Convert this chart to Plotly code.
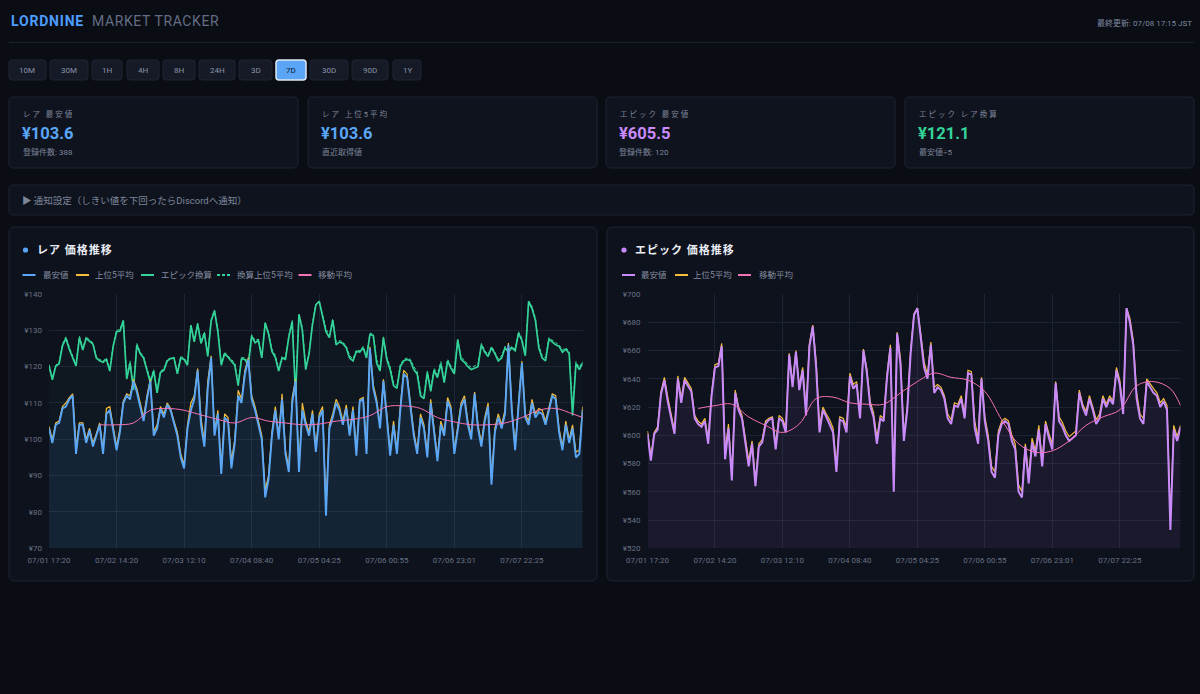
import plotly.graph_objects as go

W, H = 1200, 694

# ---------------- data ----------------
time_ticks = ["07/01 17:20", "07/02 14:20", "07/03 12:10", "07/04 08:40",
              "07/05 04:25", "07/06 00:55", "07/06 23:01", "07/07 22:25"]

rare_min = [103, 99, 104, 104.5, 108.5, 109, 111, 112, 96, 104,
            104, 99, 102.5, 98, 101, 104, 96, 107, 108, 102.5,
            97, 102, 110, 112, 111, 116, 113, 109, 105, 111,
            116, 101, 103, 108.5, 106, 109.5, 108, 104.5, 101, 95,
            92, 103, 108, 111, 119, 104, 98, 114, 122.5, 101,
            107, 90.5, 106, 105, 92, 99, 112, 110, 118, 122,
            111, 108, 104, 100, 84, 89, 101, 108, 100, 111,
            96, 91, 110, 116, 91, 108, 104, 101, 107, 96.5,
            106, 108, 79, 103, 106, 110, 108, 104, 108.5, 101,
            108, 95.5, 110.5, 111, 96, 125, 114, 110, 103, 116,
            106, 95.5, 104, 96, 108, 118, 117, 108, 101, 96,
            106, 103, 95, 110, 102, 94, 104, 101, 110.5, 108,
            96, 103, 109, 111, 104, 100, 112.5, 103, 98, 105,
            109, 87.5, 102, 106, 103, 107, 126, 108, 97, 109,
            121, 106, 104, 110, 106, 107.5, 107, 104, 108, 112,
            111, 102, 97, 104, 99, 103, 95, 96, 108]

rare_top5 = [103.5, 100, 104.5, 105, 109, 110, 111.5, 112.5, 98, 104.5,
             104.5, 100, 103, 99, 101.5, 104.5, 97, 108.5, 109, 103,
             98, 103, 110.5, 112.5, 112, 116.5, 114, 110, 106, 112,
             116.5, 102, 104, 109, 107, 110, 108.5, 105, 102, 96,
             93, 104, 110, 112, 119.5, 106, 99, 116, 123, 102,
             108, 92, 107, 106, 94, 100, 113.5, 111, 119, 122.5,
             112, 109, 105, 101, 86, 90, 102, 109, 101, 112.5,
             97, 92, 111.5, 116.5, 92, 110, 105, 102, 108, 98,
             107, 109, 81, 104, 107, 111, 109, 105, 109.5, 102,
             109, 97, 111, 111.5, 97, 125.5, 115, 111, 104, 116.5,
             107, 96.5, 105, 97, 109, 119, 118, 109, 102, 97,
             107, 104, 96, 111, 103, 95, 105, 102, 111.5, 109,
             97, 104, 110, 112, 105, 101, 113, 104, 99, 106,
             110, 89, 103, 107, 104, 108, 126.5, 109, 98, 110,
             121.5, 107, 105, 111, 107, 108.5, 108, 105, 109, 112.5,
             112, 103, 98, 105, 100, 104, 96.5, 97, 109]

epic_min = [601, 582, 601, 604, 629, 639, 624, 612, 601, 640,
            623, 639, 635, 631, 612, 608, 606, 610, 594, 628,
            648, 649, 663, 583, 605, 568, 630, 618, 612, 596,
            578, 594, 564, 592, 595, 608, 611, 612, 590, 612,
            610, 602, 657, 634, 659, 632, 646, 614, 663, 677,
            648, 602, 618, 613, 608, 602, 574, 611, 610, 602,
            642, 633, 636, 612, 660, 645, 621, 613, 594, 612,
            610, 641, 662, 560, 672, 650, 596, 618, 658, 685,
            690, 668, 648, 640, 664, 630, 634, 632, 626, 612,
            608, 621, 620, 626, 612, 644, 643, 605, 594, 640,
            610, 596, 574, 570, 600, 608, 610, 608, 596, 590,
            560, 556, 592, 566, 595, 585, 604, 578, 608, 598,
            590, 637, 610, 606, 600, 596, 598, 600, 630, 620,
            614, 626, 618, 608, 612, 626, 620, 626, 622, 646,
            636, 615, 690, 680, 664, 626, 612, 608, 638, 634,
            630, 628, 620, 624, 618, 533, 604, 596, 605.5]

epic_top5 = [603, 585, 602, 606, 631, 641, 627, 615, 603, 642,
             626, 641, 637, 633, 614, 610, 608, 612, 597, 630,
             650, 651, 665, 588, 608, 572, 632, 620, 614, 599,
             582, 596, 568, 594, 597, 610, 612, 613, 594, 614,
             612, 605, 658, 637, 660, 635, 648, 618, 665, 678,
             652, 606, 620, 615, 611, 605, 578, 613, 612, 606,
             644, 636, 638, 615, 661, 647, 624, 616, 598, 614,
             612, 643, 664, 566, 673, 654, 600, 620, 660, 686,
             690, 672, 652, 643, 666, 634, 636, 634, 628, 615,
             611, 623, 622, 628, 615, 646, 645, 610, 598, 641,
             613, 600, 578, 574, 603, 610, 612, 610, 600, 594,
             565, 560, 594, 570, 598, 589, 607, 582, 610, 601,
             594, 638, 613, 609, 603, 599, 601, 603, 632, 622,
             617, 628, 620, 611, 615, 628, 622, 628, 624, 648,
             639, 618, 690, 683, 667, 630, 615, 612, 640, 636,
             633, 630, 623, 626, 621, 540, 607, 599, 607]

# moving-average readings (sampled at these point indices)
ma_points = [15, 20, 25, 30, 35, 40, 45, 50, 55, 60, 65, 70, 75, 80, 85,
             90, 95, 100, 105, 110, 115, 120, 125, 130, 135, 140, 145, 150, 155, 158]
rare_ma = [104, 104, 104.5, 108, 108.5, 108, 106.7, 105.5, 104.5, 106,
           105, 104.5, 104, 104.2, 105, 105.5, 106.5, 109, 109.2, 108.5,
           106, 104.8, 104, 104, 104.5, 106, 108, 108.5, 107, 106]
epic_ma = [619, 621, 622, 613, 607, 602, 608, 626, 627, 623,
           622, 622, 630, 638, 644, 641, 639, 631, 611, 594,
           588, 589, 596, 607, 613, 618, 635, 638, 633, 621]

range_buttons = ["10M", "30M", "1H", "4H", "8H", "24H", "3D", "7D", "30D", "90D", "1Y"]
active_range = "7D"

card_labels = ["レア 最安値", "レア 上位5平均", "エピック 最安値", "エピック レア換算"]
card_values = ["¥103.6", "¥103.6", "¥605.5", "¥121.1"]
card_subs = ["登録件数: 388", "直近取得値", "登録件数: 120", "最安値÷5"]

title_brand = "LORDNINE"
title_rest = "MARKET TRACKER"
updated_text = "最終更新: 07/08 17:15 JST"
notice_text = "▶ 通知設定（しきい値を下回ったらDiscordへ通知）"
rare_title = "レア 価格推移"
epic_title = "エピック 価格推移"
rare_legend = ["最安値", "上位5平均", "エピック換算", "換算上位5平均", "移動平均"]
epic_legend = ["最安値", "上位5平均", "移動平均"]

for arr in (rare_top5, epic_min, epic_top5):
    assert len(arr) == len(rare_min)
assert len(rare_ma) == len(ma_points) == len(epic_ma)

# derived: epic price converted to rare units (÷5)
epic_conv = [v / 5 for v in epic_min]
epic_conv_top5 = [v / 5 for v in epic_top5]
idx = list(range(len(rare_min)))
TICK_STEP = 20
tickvals = [k * TICK_STEP for k in range(len(time_ticks))]

# ---------------- style ----------------
FONT = "Roboto, 'Noto Sans CJK JP', sans-serif"
BG = "#0a0d14"
CARD = "#0f131e"
BORDER = "#1e2434"
GRID = "#1c2333"
TICK = "#687185"
LABEL = "#7d869a"
BLUE = "#5aa6f7"
YELLOW = "#f5bd3a"
GREEN = "#34d399"
PINK = "#f472b6"
PURPLE = "#c98bfb"


def px(x):
    return x / W


def py(y):
    return 1 - y / H


def rrect(x0, y0, x1, y1, r, fill, line, lw=1.0, layer="below"):
    p = (f"M {px(x0 + r)},{py(y0)} L {px(x1 - r)},{py(y0)} Q {px(x1)},{py(y0)} {px(x1)},{py(y0 + r)} "
         f"L {px(x1)},{py(y1 - r)} Q {px(x1)},{py(y1)} {px(x1 - r)},{py(y1)} "
         f"L {px(x0 + r)},{py(y1)} Q {px(x0)},{py(y1)} {px(x0)},{py(y1 - r)} "
         f"L {px(x0)},{py(y0 + r)} Q {px(x0)},{py(y0)} {px(x0 + r)},{py(y0)} Z")
    return dict(type="path", xref="paper", yref="paper", path=p, fillcolor=fill,
                line=dict(color=line, width=lw), layer=layer)


annotations = []


def txt(x, y, s, size, color, anchor="left", bold=False, ls=None, family=FONT):
    t = s
    if ls is not None:
        t = f"<span style='letter-spacing:{ls}px'>{t}</span>"
    if bold:
        t = f"<b>{t}</b>"
    annotations.append(dict(x=px(x), y=py(y), xref="paper", yref="paper", text=t,
                            showarrow=False, xanchor=anchor, yanchor="middle",
                            font=dict(size=size, color=color, family=family)))


shapes = []

# header
txt(9, 21, title_brand, 14, "#4d9dff", bold=True, ls=0.8)
txt(90, 21, title_rest, 14, "#636d84", ls=0.6)
txt(1194, 23, updated_text, 8, "#7f89a0", anchor="right")
shapes.append(dict(type="line", xref="paper", yref="paper", x0=px(9), x1=px(1194),
                   y0=py(42.5), y1=py(42.5), line=dict(color="#1a2030", width=1), layer="below"))

# range buttons
btn_ext = [(9, 46), (50, 88), (92, 122), (127, 159), (163, 195), (199, 235),
           (239, 272), (276, 306), (310, 348), (352, 388), (393, 421)]
for name, (x0, x1) in zip(range_buttons, btn_ext):
    if name == active_range:
        shapes.append(rrect(x0, 60, x1, 80, 3, "#5aa5f6", "#dfe7f2", 1.5))
        txt((x0 + x1) / 2, 70.5, name, 8, "#0c1a33", anchor="center")
    else:
        shapes.append(rrect(x0, 60, x1, 80, 3, "#151a26", "#1f2533", 1))
        txt((x0 + x1) / 2, 70.5, name, 8, "#8b93a6", anchor="center")

# stat cards
card_x = [(9, 298), (308, 597), (606, 895), (905, 1194)]
card_colors = [BLUE, BLUE, PURPLE, GREEN]
for (x0, x1), lab, val, sub, col in zip(card_x, card_labels, card_values, card_subs, card_colors):
    shapes.append(rrect(x0, 97, x1, 168, 5, CARD, BORDER, 1))
    txt(x0 + 12, 114, lab, 7.5, LABEL, ls=2)
    txt(x0 + 10.5, 133, val, 16.5, col, bold=True)
    txt(x0 + 11.5, 152, sub, 8, LABEL)

# notification bar
shapes.append(rrect(9, 185, 1194, 215, 5, CARD, BORDER, 1))
txt(20, 200.5, notice_text, 9.5, LABEL)

# chart panels
for x0, x1 in [(9, 597), (607, 1194)]:
    shapes.append(rrect(x0, 227, x1, 581, 6, "#0e121c", BORDER, 1))

# panel titles
for cx, col, tx, title in [(25.5, BLUE, 35, rare_title), (624, PURPLE, 632.5, epic_title)]:
    shapes.append(dict(type="circle", xref="paper", yref="paper", x0=px(cx - 2.6), x1=px(cx + 2.6),
                       y0=py(250 - 2.6), y1=py(250 + 2.6), fillcolor=col, line=dict(width=0)))
    txt(tx, 250, title, 11, "#e9edf5", bold=True, ls=1)

# manual legends
rare_leg_pos = [(22.5, 40.5), (76, 93), (141, 158.5), (217, 235), (298.5, 316)]
rare_leg_style = [(BLUE, "solid"), (YELLOW, "solid"), (GREEN, "solid"), (GREEN, "3px,2px"), (PINK, "solid")]
epic_leg_pos = [(622, 639), (675, 691), (738, 756.5)]
epic_leg_style = [(PURPLE, "solid"), (YELLOW, "solid"), (PINK, "solid")]
for names, poss, styles in [(rare_legend, rare_leg_pos, rare_leg_style),
                            (epic_legend, epic_leg_pos, epic_leg_style)]:
    for nm, (lx, tx), (col, dash) in zip(names, poss, styles):
        shapes.append(dict(type="line", xref="paper", yref="paper", x0=px(lx), x1=px(lx + 13),
                           y0=py(275), y1=py(275), line=dict(color=col, width=2, dash=dash)))
        txt(tx, 275, nm, 8.5, "#848da1")

# ---------------- traces ----------------
fig = go.Figure()

# rare chart
fig.add_trace(go.Scatter(x=idx, y=rare_min, mode="lines", line=dict(width=0),
                         fill="tozeroy", fillcolor="rgba(70,150,240,0.10)",
                         hoverinfo="skip", xaxis="x", yaxis="y"))
fig.add_trace(go.Scatter(x=idx, y=epic_conv, mode="lines", line=dict(width=0),
                         fill="tozeroy", fillcolor="rgba(52,211,153,0.035)",
                         hoverinfo="skip", xaxis="x", yaxis="y"))
fig.add_trace(go.Scatter(x=idx, y=epic_conv_top5, mode="lines", name=rare_legend[3],
                         line=dict(color=GREEN, width=1, dash="3px,2px"), xaxis="x", yaxis="y"))
fig.add_trace(go.Scatter(x=idx, y=epic_conv, mode="lines", name=rare_legend[2],
                         line=dict(color=GREEN, width=1.7), xaxis="x", yaxis="y"))
fig.add_trace(go.Scatter(x=idx, y=rare_top5, mode="lines", name=rare_legend[1],
                         line=dict(color=YELLOW, width=1.2), xaxis="x", yaxis="y"))
fig.add_trace(go.Scatter(x=idx, y=rare_min, mode="lines", name=rare_legend[0],
                         line=dict(color=BLUE, width=1.9), xaxis="x", yaxis="y"))
fig.add_trace(go.Scatter(x=ma_points, y=rare_ma, mode="lines", name=rare_legend[4],
                         line=dict(color=PINK, width=1, shape="spline"), xaxis="x", yaxis="y"))

# epic chart
fig.add_trace(go.Scatter(x=idx, y=epic_min, mode="lines", line=dict(width=0),
                         fill="tozeroy", fillcolor="rgba(192,132,252,0.07)",
                         hoverinfo="skip", xaxis="x2", yaxis="y2"))
fig.add_trace(go.Scatter(x=idx, y=epic_top5, mode="lines", name=epic_legend[1],
                         line=dict(color=YELLOW, width=1.2), xaxis="x2", yaxis="y2"))
fig.add_trace(go.Scatter(x=idx, y=epic_min, mode="lines", name=epic_legend[0],
                         line=dict(color=PURPLE, width=2), xaxis="x2", yaxis="y2"))
fig.add_trace(go.Scatter(x=ma_points, y=epic_ma, mode="lines", name=epic_legend[2],
                         line=dict(color=PINK, width=1, shape="spline"), xaxis="x2", yaxis="y2"))

xcommon = dict(range=[0, len(rare_min) - 1], tickmode="array", tickvals=tickvals, ticktext=time_ticks,
               showgrid=True, gridcolor=GRID, gridwidth=1, zeroline=False, showline=False, ticks="",
               tickfont=dict(size=8, color=TICK, family=FONT), ticklabelstandoff=6, fixedrange=True,
               automargin=False)
ycommon = dict(showgrid=True, gridcolor=GRID, gridwidth=1, zeroline=False, showline=False, ticks="",
               tickprefix="¥", tickfont=dict(size=8, color=TICK, family=FONT),
               ticklabelstandoff=6, fixedrange=True, automargin=False)

fig.update_layout(
    width=W, height=H, margin=dict(l=0, r=0, t=0, b=0, pad=0, autoexpand=False),
    paper_bgcolor=BG, plot_bgcolor="rgba(0,0,0,0)", showlegend=False,
    font=dict(family=FONT),
    xaxis=dict(domain=[px(49), px(582.7)], anchor="y", **xcommon),
    yaxis=dict(domain=[py(548.3), py(294)], anchor="x", range=[70, 140], dtick=10, **ycommon),
    xaxis2=dict(domain=[px(647.5), px(1180.5)], anchor="y2", **xcommon),
    yaxis2=dict(domain=[py(548.3), py(294)], anchor="x2", range=[520, 700], dtick=20, **ycommon),
    shapes=shapes, annotations=annotations,
)

fig.write_html("out.html", include_plotlyjs=True, config={"displayModeBar": False})
